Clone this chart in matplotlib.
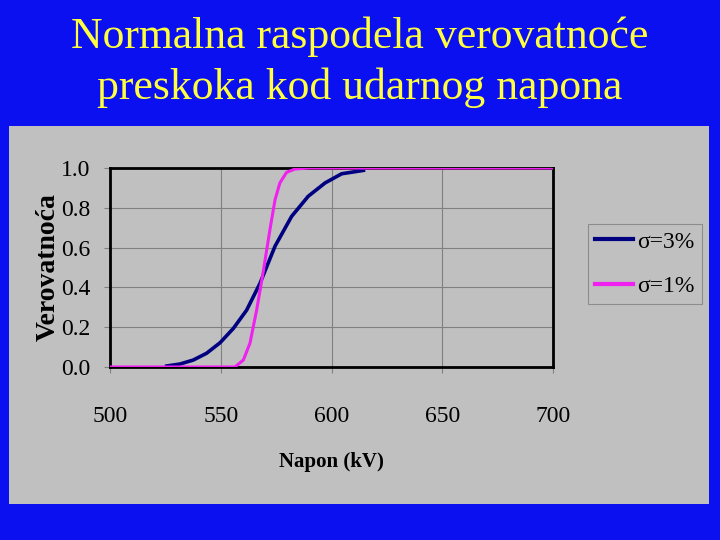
import matplotlib.pyplot as plt
from matplotlib.patches import Rectangle

# values (kV, probability)
napon_3 = [525.6, 531.6, 537.6, 543.6, 549.7, 555.7, 561.7, 567.7, 574.5,
           582.0, 589.5, 597.1, 604.6, 614.4]
prob_3 = [0.005, 0.015, 0.035, 0.069, 0.122, 0.194, 0.286, 0.42, 0.607,
          0.757, 0.858, 0.925, 0.971, 0.988]

napon_1 = [500, 556.4, 560.2, 563.2, 566.2, 569.2, 572.2, 574.5, 576.7,
           579.7, 583.5, 590, 700]
prob_1 = [0.0, 0.0, 0.035, 0.12, 0.286, 0.48, 0.69, 0.84, 0.925,
          0.978, 0.995, 1.0, 1.0]

xticks = [500, 550, 600, 650, 700]
yticks = [0.0, 0.2, 0.4, 0.6, 0.8, 1.0]

serif = ["Liberation Serif", "DejaVu Serif"]
plt.rcParams["font.family"] = serif

fig = plt.figure(figsize=(7.2, 5.4), dpi=100)
fig.patch.set_facecolor("#0A10F0")

# gray chart panel
fig.patches.append(Rectangle((9 / 720, 1 - 504 / 540), 700 / 720, 378 / 540,
                             transform=fig.transFigure, facecolor="#C0C0C0",
                             edgecolor="none", zorder=-5))

fig.text(0.5, 1 - 37 / 540, "Normalna raspodela verovatnoće",
         ha="center", va="center", color="#FFFF40", fontsize=31.5)
fig.text(0.5, 1 - 88 / 540, "preskoka kod udarnog napona",
         ha="center", va="center", color="#FFFF40", fontsize=31.5)

ax = fig.add_axes([110 / 720, 1 - 367 / 540, 443 / 720, 199 / 540])
ax.set_facecolor("#C0C0C0")

ax.plot(napon_3, prob_3, color="#000080", linewidth=2.6, label="σ=3%", zorder=3)
ax.plot(napon_1, prob_1, color="#F020F0", linewidth=2.2, label="σ=1%", zorder=3)

ax.set_xlim(500, 700)
ax.set_ylim(0, 1)
ax.set_xticks(xticks)
ax.set_yticks(yticks)
ax.set_yticklabels([f"{v:.1f}" for v in yticks])
ax.grid(True, color="#808080", linewidth=0.8)
ax.set_axisbelow(True)
for s in ax.spines.values():
    s.set_linewidth(2)
    s.set_color("black")
ax.tick_params(axis="both", direction="out", length=4, color="#808080",
               labelsize=17)
ax.tick_params(axis="x", pad=24)
ax.tick_params(axis="y", pad=10)

ax.set_xlabel("Napon (kV)", fontsize=15, fontweight="bold", labelpad=18)
ax.set_ylabel("Verovatnoća", fontsize=20, fontweight="bold", labelpad=0.5)

leg = fig.legend(loc="upper left", bbox_to_anchor=(588 / 720, 1 - 224 / 540),
                 fontsize=17, frameon=True, fancybox=False, handlelength=1.6,
                 borderaxespad=0, labelspacing=0.96, handletextpad=0.2,
                 borderpad=0.3)
leg.get_frame().set_facecolor("#C0C0C0")
leg.get_frame().set_edgecolor("#808080")
leg.get_frame().set_linewidth(0.8)
for line in leg.get_lines():
    line.set_linewidth(3)

fig.savefig("out.png", dpi=100, facecolor=fig.get_facecolor())
